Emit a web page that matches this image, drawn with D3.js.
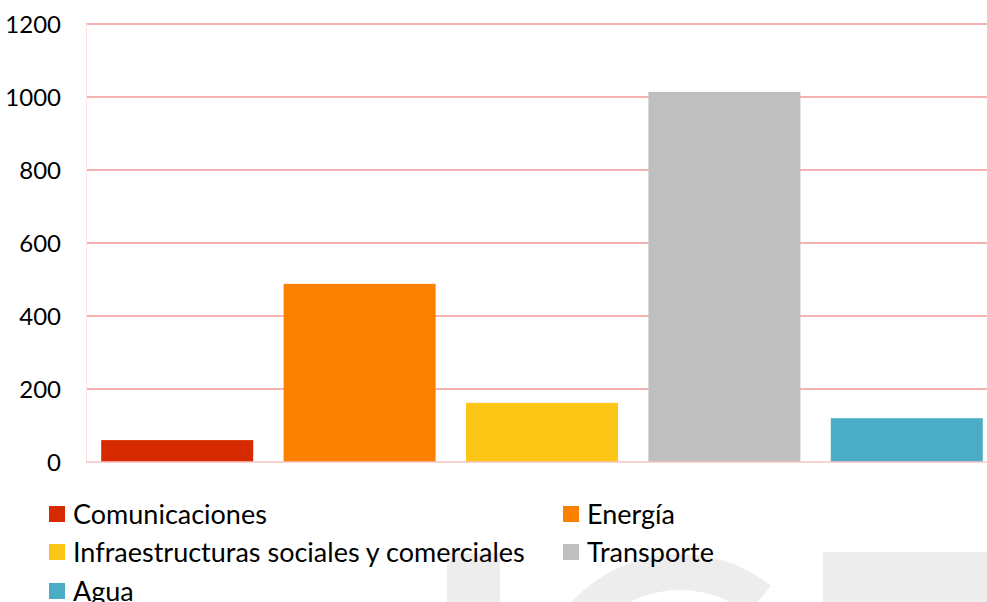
<!DOCTYPE html>
<html><head><meta charset="utf-8">
<script src="https://cdn.jsdelivr.net/npm/d3@7"></script>
<style>html,body{margin:0;padding:0;background:#fff;overflow:hidden}</style>
</head><body>
<svg id="chart" width="987" height="602"></svg>
<script>
const categories = ["Comunicaciones","Energía","Infraestructuras sociales y comerciales","Transporte","Agua"];
const values = [60, 488, 162, 1014, 120];
const colors = ["#D62A00","#FB8000","#FDC617","#BFBFBF","#4BACC6"];
const yTicks = [0,200,400,600,800,1000,1200];

const svg = d3.select("#chart");
const font = "Lato, 'Open Sans', sans-serif";

// watermark (decorative)
const wm = svg.append("g").attr("fill","#ededed");
wm.append("rect").attr("x",447).attr("y",553).attr("width",53).attr("height",60);
wm.append("rect").attr("x",823).attr("y",552).attr("width",200).attr("height",60);
wm.append("path").attr("transform","translate(680,700)")
  .attr("d", d3.arc()({innerRadius:110, outerRadius:146, startAngle:-Math.PI*1.2, endAngle:38.5*Math.PI/180}));

const x = d3.scaleBand().domain(categories).range([86, 998]).paddingInner(1/6).paddingOuter(1/12);
const y = d3.scaleLinear().domain([0,1200]).range([462, 24]);

// gridlines
svg.append("g").selectAll("line").data(yTicks.filter(d=>d>0)).join("line")
  .attr("x1",86).attr("x2",987).attr("y1",d=>y(d)).attr("y2",d=>y(d))
  .attr("stroke","#F4B3B3").attr("stroke-width",1.8);
// vertical axis line
svg.append("line").attr("x1",86.5).attr("x2",86.5).attr("y1",y(1200)).attr("y2",y(0))
  .attr("stroke","#FBE3E3").attr("stroke-width",1);

// bars
svg.append("g").selectAll("rect").data(categories).join("rect")
  .attr("x",d=>x(d)).attr("width",x.bandwidth())
  .attr("y",(d,i)=>y(values[i])).attr("height",(d,i)=>y(0)-y(values[i]))
  .attr("fill",(d,i)=>colors[i]);

// baseline
svg.append("line").attr("x1",86).attr("x2",987).attr("y1",y(0)).attr("y2",y(0))
  .attr("stroke","#F6C4C4").attr("stroke-width",1.5);

// y axis labels
const yAxis = d3.axisLeft(y).tickValues(yTicks).tickFormat(d3.format("d")).tickSize(0).tickPadding(0);
const ya = svg.append("g").attr("transform","translate(61,0)").call(yAxis);
ya.select(".domain").remove();
ya.selectAll("text").attr("font-family",font).attr("font-size",24).attr("fill","#000").attr("dy","0.34em");

// legend
const legendPos = [[49,514],[563,514],[49,552],[563,552],[49,591]];
const lg = svg.append("g").selectAll("g").data(categories).join("g")
  .attr("transform",(d,i)=>`translate(${legendPos[i][0]},${legendPos[i][1]})`);
lg.append("rect").attr("x",0).attr("y",-8).attr("width",16).attr("height",16).attr("fill",(d,i)=>colors[i]);
lg.append("text").attr("x",24).attr("y",0).attr("dy","0.36em")
  .attr("font-family",font).attr("font-size",27).attr("fill","#000").text(d=>d);
</script>
</body></html>
